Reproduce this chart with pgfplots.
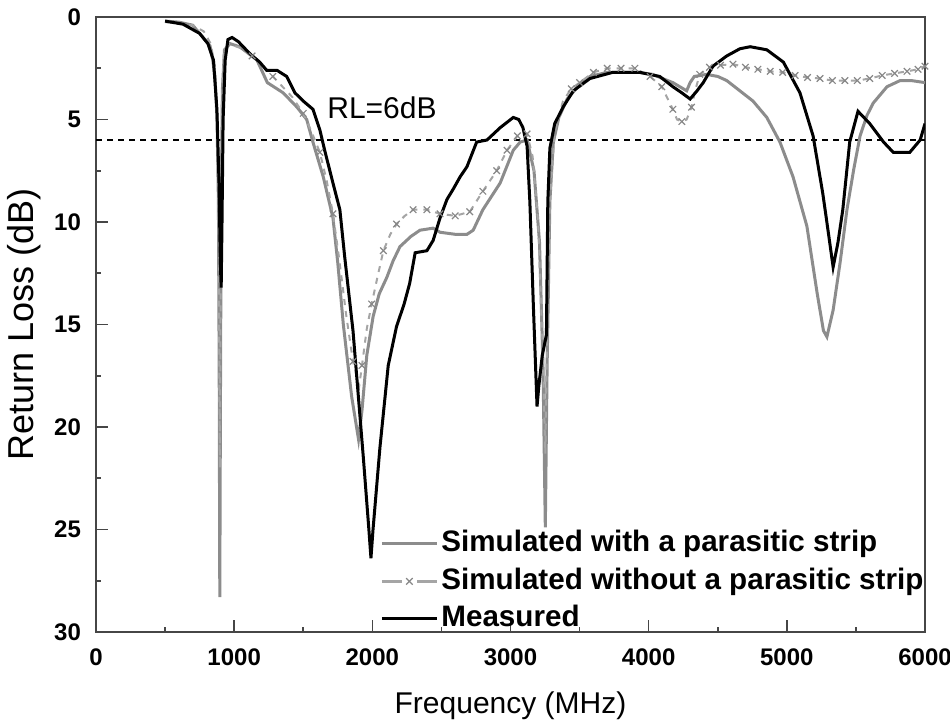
\documentclass[border=0pt]{standalone}
\usepackage{pgfplots}
\pgfplotsset{compat=1.18}
\usepackage{fontspec}
\setmainfont{Liberation Sans}

\definecolor{simgray}{RGB}{140,140,140}
\definecolor{dashgray}{RGB}{165,165,165}
\definecolor{markgray}{RGB}{135,135,135}
\definecolor{axisgray}{RGB}{70,70,70}

\begin{document}
\begin{tikzpicture}
\begin{axis}[
  scale only axis, width=414.5pt, height=307.5pt,
  xmin=0, xmax=6000, ymin=0, ymax=30, y dir=reverse,
  xtick={0,1000,...,6000}, minor xtick={500,1500,...,5500},
  ytick={0,5,...,30}, minor ytick={2.5,7.5,...,27.5},
  xtick pos=left, xticklabel pos=left, ytick pos=left,
  tick align=inside, major tick length=6pt, minor tick length=2.5pt,
  axis line style={axisgray, line width=1pt},
  every tick/.style={axisgray, line width=0.8pt},
  /pgf/number format/assume math mode=true,
  scaled x ticks=false,
  xticklabel style={/pgf/number format/1000 sep={}, yshift=-5pt},
  yticklabel style={xshift=-4pt},
  ticklabel style={font=\bfseries\fontsize{12}{14}\selectfont},
  xlabel={Frequency (MHz)}, ylabel={Return Loss (dB)},
  xlabel style={font=\fontsize{15}{18}\selectfont, yshift=-6pt},
  ylabel style={font=\fontsize{18}{21}\selectfont},
  legend image code/.code={\draw[mark repeat=2,mark phase=2,#1] plot coordinates {(0pt,0pt) (13.75pt,0pt) (27.5pt,0pt)};},
  legend cell align=left,
  legend style={at={(0.3426,0.17)}, anchor=north west, draw=none, fill=none,
    inner sep=0pt, row sep=2.75pt,
    font=\bfseries\fontsize{14.8}{16}\selectfont,
    nodes={inner sep=1.5pt, text height=10.5pt, text depth=2.5pt}},
  /tikz/every even column/.append style={column sep=1pt},
]

% RL = 6 dB reference level
\addplot[black, line width=0.8pt, dash pattern=on 3pt off 2.5pt, forget plot]
  coordinates {(0,6) (6000,6)};

% Simulated with a parasitic strip
\addplot[simgray, line width=1.5pt] coordinates {
(500,0.2) (600,0.25) (700,0.4) (775,1.0) (825,1.4) (845,2.1) (862,3.0) (876,5) (886,9)
(892,18) (896,28.3) (900,20) (906,9) (915,3.5) (930,1.6) (970,1.3) (1040,1.45)
(1165,2.1) (1240,3.2) (1355,3.7) (1455,4.4) (1525,5.0) (1570,6.1) (1645,7.8)
(1715,9.8) (1750,12) (1790,15.0) (1850,18.5) (1900,20.6) (1925,19.2) (1960,16.5)
(2006,14.6) (2050,13.5) (2105,12.7) (2150,11.9) (2200,11.2) (2280,10.7) (2345,10.4)
(2440,10.3) (2490,10.5) (2600,10.6) (2685,10.6) (2730,10.4) (2800,9.4) (2925,8.1)
(3020,6.5) (3070,6.1) (3120,6.0) (3170,7.5) (3210,11) (3235,17) (3252,24.9)
(3265,17) (3285,9) (3310,6.1) (3350,4.9) (3410,4.0) (3500,3.3) (3575,2.9)
(3700,2.7) (3815,2.7) (3930,2.7) (4030,2.8) (4100,3.0) (4175,3.2) (4250,3.5)
(4275,3.6) (4300,3.2) (4330,2.9) (4420,2.8) (4500,2.9) (4565,3.1) (4660,3.6)
(4755,4.1) (4855,4.9) (4950,6.1) (5045,7.8) (5145,10.2) (5220,13.5) (5265,15.3)
(5290,15.6) (5335,14.3) (5385,12) (5435,9.4) (5485,7.4) (5530,5.8) (5580,4.8)
(5625,4.2) (5725,3.4) (5820,3.1) (5900,3.1) (6000,3.2)
};
\addlegendentry{Simulated with a parasitic strip}

% Simulated without a parasitic strip
\addplot[dashgray, line width=1pt, dash pattern=on 3pt off 3pt,
  mark=x, mark size=2.3pt, mark options={solid, markgray, line width=0.6pt},
  mark indices={15,17,20,22,24,27,29,31,33,35,37,38,39,40,41,42,43,44,45,46,
    55,56,57,58,59,60,61,62,63,65,67,69,70,71,72,73,74,75,76,77,78,79,80,
    81,82,83,84,85,86,87,88}, forget plot]
  coordinates {
(500,0.25) (600,0.3) (700,0.4) (780,0.7) (830,1.3) (860,2.4) (878,5) (888,10)
(896,22) (903,12) (912,4) (925,1.8) (960,1.3) (1040,1.5) (1130,1.9) (1200,2.3)
(1280,2.9) (1350,3.4) (1420,3.9) (1500,4.7) (1560,5.6) (1620,6.6) (1670,8.0)
(1715,9.6) (1760,11.8) (1810,14.5) (1860,16.8) (1905,18) (1925,17) (1960,15.2)
(1995,14.0) (2040,12.6) (2080,11.4) (2130,10.6) (2175,10.1) (2235,9.7) (2295,9.4)
(2395,9.4) (2490,9.6) (2600,9.7) (2705,9.5) (2800,8.5) (2900,7.5) (2975,6.5)
(3050,5.8) (3120,5.7) (3160,6.8) (3200,10) (3232,16) (3252,21.3) (3266,15)
(3285,9) (3320,5.6) (3380,4.1) (3440,3.5) (3500,3.2) (3600,2.7) (3700,2.5)
(3800,2.5) (3900,2.5) (4010,2.9) (4095,3.4) (4175,4.5) (4205,5.0) (4240,5.1)
(4275,5.0) (4310,4.4) (4340,3.5) (4370,2.8) (4440,2.45) (4520,2.35) (4610,2.3)
(4700,2.45) (4790,2.55) (4880,2.65) (4970,2.7) (5060,2.85) (5150,2.95) (5240,3.0)
(5330,3.1) (5420,3.1) (5510,3.1) (5600,3.0) (5690,2.85) (5780,2.75) (5870,2.65)
(5950,2.55) (6000,2.4)
};
\addlegendimage{dashgray, line width=1.2pt, dash pattern=on 10pt off 7.5pt,
  mark=x, mark size=2.3pt, mark options={solid, markgray, line width=0.6pt}}
\addlegendentry{Simulated without a parasitic strip}

% Measured
\addplot[black, line width=1.5pt] coordinates {
(500,0.2) (630,0.35) (750,0.8) (810,1.3) (850,2.1) (875,4.5) (890,8) (900,12)
(906,13.2) (912,10) (920,5) (935,2.1) (955,1.1) (985,1.0) (1030,1.2) (1115,1.8)
(1185,2.2) (1235,2.6) (1310,2.6) (1380,2.9) (1440,3.7) (1500,4.1) (1570,4.5)
(1620,5.5) (1655,6.5) (1715,8.1) (1765,9.4) (1800,11.7) (1860,15.3) (1935,21.5)
(1975,25) (1990,26.4) (2005,25) (2055,21) (2115,17) (2175,15.1) (2230,14)
(2270,13.0) (2310,11.5) (2395,11.4) (2440,10.9) (2490,9.8) (2540,8.9) (2585,8.4)
(2635,7.8) (2685,7.3) (2755,6.1) (2830,6.0) (2925,5.4) (3020,4.9) (3060,5.0)
(3090,5.4) (3120,6.3) (3140,9) (3165,14) (3192,19) (3205,18) (3230,16.5)
(3260,15.5) (3270,9) (3285,6.4) (3320,5.2) (3380,4.4) (3455,3.6) (3575,3.0)
(3740,2.7) (3935,2.7) (4080,2.9) (4175,3.4) (4240,3.7) (4300,4.0) (4350,3.6)
(4395,3.2) (4465,2.4) (4565,1.9) (4660,1.55) (4735,1.45) (4855,1.6) (4975,2.2)
(5095,3.7) (5190,5.8) (5260,8.6) (5300,10.5) (5335,12.2) (5370,11) (5405,9.4)
(5455,6.1) (5515,4.6) (5600,5.2) (5700,6.1) (5770,6.6) (5890,6.6) (5965,6.0)
(6000,5.2)
};
\addlegendentry{Measured}

\node[font=\fontsize{15}{18}\selectfont] at (axis cs:2070,4.45) {RL=6dB};
\end{axis}
\pgfresetboundingbox
\path ([shift={(-48pt,-45pt)}]current axis.south west)
  rectangle ([shift={(12.5pt,8.5pt)}]current axis.north east);
\end{tikzpicture}
\end{document}
